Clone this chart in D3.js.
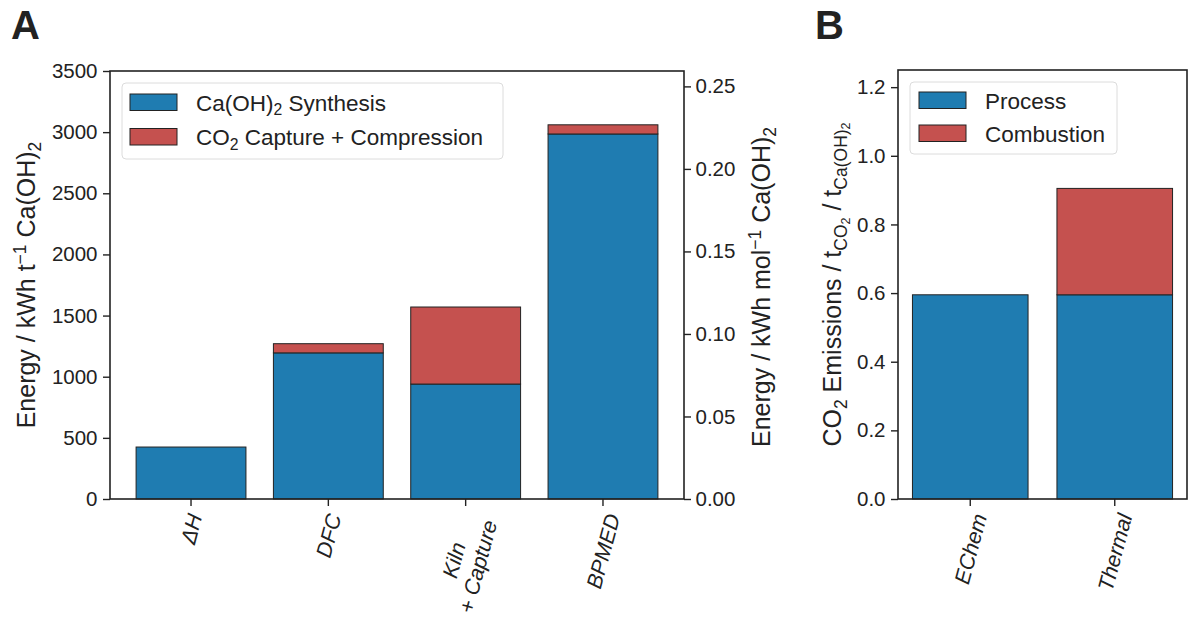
<!DOCTYPE html>
<html>
<head>
<meta charset="utf-8">
<script src="https://cdn.jsdelivr.net/npm/d3@7"></script>
<style>
  html, body { margin: 0; padding: 0; background: #fff; }
  svg { display: block; font-family: "Liberation Sans", Arial, sans-serif; }
</style>
</head>
<body>
<svg id="fig" width="1188" height="619"></svg>
<script>
// Panel A: energy demand per tonne Ca(OH)2, stacked
const catsA = ["ΔH", "DFC", "Kiln\n+ Capture", "BPMED"];
const synthesisA = [425, 1195, 940, 2985];
const captureA = [0, 75, 630, 75];
const ticksA = [0, 500, 1000, 1500, 2000, 2500, 3000, 3500];
const ticksMol = [0, 0.05, 0.10, 0.15, 0.20, 0.25];
const MOLAR_MASS = 74.093; // g/mol Ca(OH)2 -> kWh/t to kWh/mol

// Panel B: CO2 emissions per tonne Ca(OH)2, stacked
const catsB = ["EChem", "Thermal"];
const processB = [0.595, 0.595];
const combustionB = [0, 0.31];
const ticksB = [0, 0.2, 0.4, 0.6, 0.8, 1.0, 1.2];

const BLUE = "#1f7cb1", RED = "#c5514f", INK = "#222";
const TICK_FS = 20.5, XTICK_FS = 21.5, LABEL_FS = 25, LEG_FS = 22.5;

const svg = d3.select("#fig");

// append rich text: segs = [[text, mode]], mode: "", "sub", "sup", "subsub"
function rich(textSel, segs, fs) {
  const conf = {
    "": { s: 1, off: 0 },
    sub: { s: 0.7, off: 0.22 },
    sup: { s: 0.7, off: -0.38 },
    subsub: { s: 0.5, off: 0.36 },
  };
  let cur = 0;
  segs.forEach(([t, m]) => {
    const c = conf[m || ""];
    const target = c.off * fs;
    textSel.append("tspan")
      .attr("dy", target - cur)
      .attr("font-size", fs * c.s)
      .text(t);
    cur = target;
  });
}

function frame(g, x0, x1, y0, y1) {
  g.append("rect")
    .attr("x", x0).attr("y", y1).attr("width", x1 - x0).attr("height", y0 - y1)
    .attr("fill", "none").attr("stroke", INK).attr("stroke-width", 1.6);
}

function styleAxis(sel) {
  sel.select(".domain").remove();
  sel.selectAll(".tick line").attr("stroke", INK).attr("stroke-width", 1.4);
  sel.selectAll(".tick text").attr("fill", INK).attr("font-size", TICK_FS)
    .attr("font-family", "'Liberation Sans', Arial, sans-serif");
}

function xLabels(g, scale, cats, yTop) {
  const fs = XTICK_FS, lh = fs * 1.15, a = 75 * Math.PI / 180;
  cats.forEach((c) => {
    const lines = c.split("\n");
    const gg = g.append("g");
    const t = gg.append("text")
      .attr("text-anchor", "middle")
      .attr("font-size", fs).attr("font-style", "italic").attr("fill", INK);
    lines.forEach((ln, i) => {
      t.append("tspan").attr("x", 0)
        .attr("y", (i - (lines.length - 1) / 2) * lh + 0.36 * fs)
        .text(ln);
    });
    const w = d3.max(t.selectAll("tspan").nodes(), (n) => n.getComputedTextLength());
    const h = lines.length * lh;
    const H = w * Math.sin(a) + h * Math.cos(a);
    const cx = scale(c) + scale.bandwidth() / 2;
    gg.attr("transform", `translate(${cx},${yTop + H / 2}) rotate(-75)`);
  });
}

function stackedBars(g, x, y, cats, lower, upper) {
  const rows = cats.map((c, i) => ({ c, a: lower[i], b: upper[i] }));
  g.selectAll("rect.low").data(rows).join("rect").attr("class", "low")
    .attr("x", (d) => x(d.c)).attr("width", x.bandwidth())
    .attr("y", (d) => y(d.a)).attr("height", (d) => y(0) - y(d.a))
    .attr("fill", BLUE).attr("stroke", INK).attr("stroke-width", 1);
  g.selectAll("rect.up").data(rows.filter((d) => d.b > 0)).join("rect").attr("class", "up")
    .attr("x", (d) => x(d.c)).attr("width", x.bandwidth())
    .attr("y", (d) => y(d.a + d.b)).attr("height", (d) => y(d.a) - y(d.a + d.b))
    .attr("fill", RED).attr("stroke", INK).attr("stroke-width", 1);
}

function legend(g, x, y, w, h, items, px, ty0, dy) {
  g.append("rect").attr("x", x).attr("y", y).attr("width", w).attr("height", h)
    .attr("rx", 4).attr("fill", "#fff").attr("fill-opacity", 0.8)
    .attr("stroke", "#dcdcdc").attr("stroke-width", 1);
  items.forEach((it, i) => {
    const by = ty0 + i * dy;
    g.append("rect").attr("x", px).attr("y", by - 16.5).attr("width", 47).attr("height", 16.5)
      .attr("fill", it.color).attr("stroke", INK).attr("stroke-width", 1);
    const t = g.append("text").attr("x", px + 66).attr("y", by)
      .attr("fill", INK).attr("font-size", LEG_FS);
    rich(t, it.segs, LEG_FS);
  });
}

// ---------------- Panel A ----------------
const A = { x0: 110, x1: 684, y0: 499, y1: 71 };
const gA = svg.append("g");
const xA = d3.scaleBand().domain(catsA).range([A.x0, A.x1]).paddingInner(0.2).paddingOuter(0.19);
const yA = d3.scaleLinear().domain([0, 3500]).range([A.y0, A.y1]);
const yMol = d3.scaleLinear().domain([0, 3500 * MOLAR_MASS / 1e6]).range([A.y0, A.y1]);

stackedBars(gA.append("g"), xA, yA, catsA, synthesisA, captureA);

gA.append("g").attr("transform", `translate(${A.x0},0)`)
  .call(d3.axisLeft(yA).tickValues(ticksA).tickFormat(d3.format("d")).tickSize(7).tickPadding(5.5))
  .call(styleAxis);
gA.append("g").attr("transform", `translate(${A.x1},0)`)
  .call(d3.axisRight(yMol).tickValues(ticksMol).tickFormat(d3.format(".2f")).tickSize(7).tickPadding(4.5))
  .call(styleAxis);
gA.append("g").attr("transform", `translate(0,${A.y0})`)
  .call(d3.axisBottom(xA).tickSize(7).tickFormat(""))
  .call(styleAxis);
frame(gA, A.x0, A.x1, A.y0, A.y1);
xLabels(gA.append("g"), xA, catsA, A.y0 + 12);

legend(gA.append("g"), 122, 83, 381, 76, [
  { color: BLUE, segs: [["Ca(OH)", ""], ["2", "sub"], [" Synthesis", ""]] },
  { color: RED, segs: [["CO", ""], ["2", "sub"], [" Capture + Compression", ""]] },
], 130, 110.5, 34.5);

const ylA = gA.append("text").attr("transform", `translate(35,${(A.y0 + A.y1) / 2}) rotate(-90)`)
  .attr("text-anchor", "middle").attr("fill", INK).attr("font-size", LABEL_FS);
rich(ylA, [["Energy / kWh t", ""], ["−1", "sup"], [" Ca(OH)", ""], ["2", "sub"]], LABEL_FS);

const yrA = gA.append("text").attr("transform", `translate(770,${(A.y0 + A.y1) / 2 + 2}) rotate(-90)`)
  .attr("text-anchor", "middle").attr("fill", INK).attr("font-size", LABEL_FS);
rich(yrA, [["Energy / kWh mol", ""], ["−1", "sup"], [" Ca(OH)", ""], ["2", "sub"]], LABEL_FS);

svg.append("text").attr("x", 11).attr("y", 39).attr("font-size", 40).attr("font-weight", "bold")
  .attr("fill", INK).text("A");

// ---------------- Panel B ----------------
const B = { x0: 898, x1: 1187, y0: 499, y1: 70 };
const gB = svg.append("g");
const xB = d3.scaleBand().domain(catsB).range([B.x0, B.x1]).paddingInner(0.2).paddingOuter(0.1);
const yB = d3.scaleLinear().domain([0, 1.25]).range([B.y0, B.y1]);

stackedBars(gB.append("g"), xB, yB, catsB, processB, combustionB);

gB.append("g").attr("transform", `translate(${B.x0},0)`)
  .call(d3.axisLeft(yB).tickValues(ticksB).tickFormat(d3.format(".1f")).tickSize(7).tickPadding(5.5))
  .call(styleAxis);
gB.append("g").attr("transform", `translate(0,${B.y0})`)
  .call(d3.axisBottom(xB).tickSize(7).tickFormat(""))
  .call(styleAxis);
frame(gB, B.x0, B.x1, B.y0, B.y1);
xLabels(gB.append("g"), xB, catsB, B.y0 + 12);

legend(gB.append("g"), 910, 82, 207, 72, [
  { color: BLUE, segs: [["Process", ""]] },
  { color: RED, segs: [["Combustion", ""]] },
], 919, 108.5, 33);

const ylB = gB.append("text").attr("transform", `translate(841,${(B.y0 + B.y1) / 2}) rotate(-90)`)
  .attr("text-anchor", "middle").attr("fill", INK).attr("font-size", LABEL_FS);
rich(ylB, [["CO", ""], ["2", "sub"], [" Emissions / t", ""], ["CO", "sub"], ["2", "subsub"],
  [" / t", ""], ["Ca(OH)", "sub"], ["2", "subsub"]], LABEL_FS);

svg.append("text").attr("x", 815).attr("y", 39).attr("font-size", 40).attr("font-weight", "bold")
  .attr("fill", INK).text("B");
</script>
</body>
</html>
